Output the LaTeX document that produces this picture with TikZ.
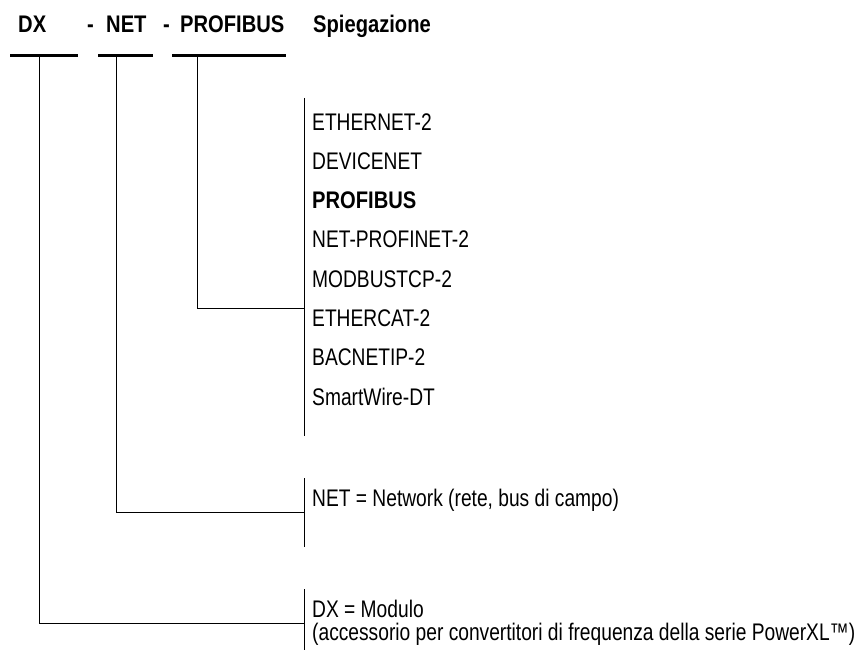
\documentclass[tikz,border=0pt]{standalone}
\usepackage{fontspec}
\setmainfont[FakeStretch=0.80,BoldFeatures={FakeStretch=0.84}]{Liberation Sans}
\begin{document}
\begin{tikzpicture}[x=1pt,y=-1pt,
  txt/.style={inner sep=0pt,anchor=base west,font=\fontsize{24}{28}\selectfont},
  hdr/.style={txt,font=\fontsize{24}{28}\selectfont\bfseries},
  uline/.style={line width=3pt},
  conn/.style={line width=1pt},
  bar/.style={line width=1pt}]
\useasboundingbox (0,0) rectangle (861,650);
% headers
\node[hdr] (hDX) at (18,33) {DX};
\node[hdr] (d1) at (87,33) {-};
\node[hdr] (hNET) at (106,33) {NET};
\node[hdr] (d2) at (163,33) {-};
\node[hdr] (hPB) at (180,33) {PROFIBUS};
\node[hdr] (hSp) at (313,33) {Spiegazione};
% underlines
\coordinate (uDXa) at (10,56); \coordinate (uDXb) at (78,56);
\coordinate (uNETa) at (98,56); \coordinate (uNETb) at (153,56);
\coordinate (uPBa) at (172,56); \coordinate (uPBb) at (286,56);
\draw[uline] (uDXa) -- (uDXb);
\draw[uline] (uNETa) -- (uNETb);
\draw[uline] (uPBa) -- (uPBb);
% branch points
\coordinate (tDX) at (39,56); \coordinate (tNET) at (116,56); \coordinate (tPB) at (197,56);
% bars
\coordinate (b1a) at (304,98); \coordinate (b1b) at (304,436);
\coordinate (b2a) at (304,478); \coordinate (b2b) at (304,547);
\coordinate (b3a) at (304,589); \coordinate (b3b) at (304,650);
\draw[bar] (b1a) -- (b1b);
\draw[bar] (b2a) -- (b2b);
\draw[bar] (b3a) -- (b3b);
\coordinate (jPB) at (304,308); \coordinate (jNET) at (304,512); \coordinate (jDX) at (304,623);
\draw[conn] (tPB) |- (jPB);
\draw[conn] (tNET) |- (jNET);
\draw[conn] (tDX) |- (jDX);
% items
\node[txt] (i1) at (312,130) {ETHERNET-2};
\node[txt] (i2) at (312,169.3) {DEVICENET};
\node[hdr] (i3) at (312,208.6) {PROFIBUS};
\node[txt] (i4) at (312,247.9) {NET-PROFINET-2};
\node[txt] (i5) at (312,287.2) {MODBUSTCP-2};
\node[txt] (i6) at (312,326.5) {ETHERCAT-2};
\node[txt] (i7) at (312,365.8) {BACNETIP-2};
\node[txt] (i8) at (312,405.1) {SmartWire-DT};
\node[txt] (net) at (312,506) {NET = Network (rete, bus di campo)};
\node[txt] (dx1) at (312,617) {DX = Modulo};
\node[txt] (dx2) at (312,640) {(accessorio per convertitori di frequenza della serie PowerXL™)};
\end{tikzpicture}
\end{document}
